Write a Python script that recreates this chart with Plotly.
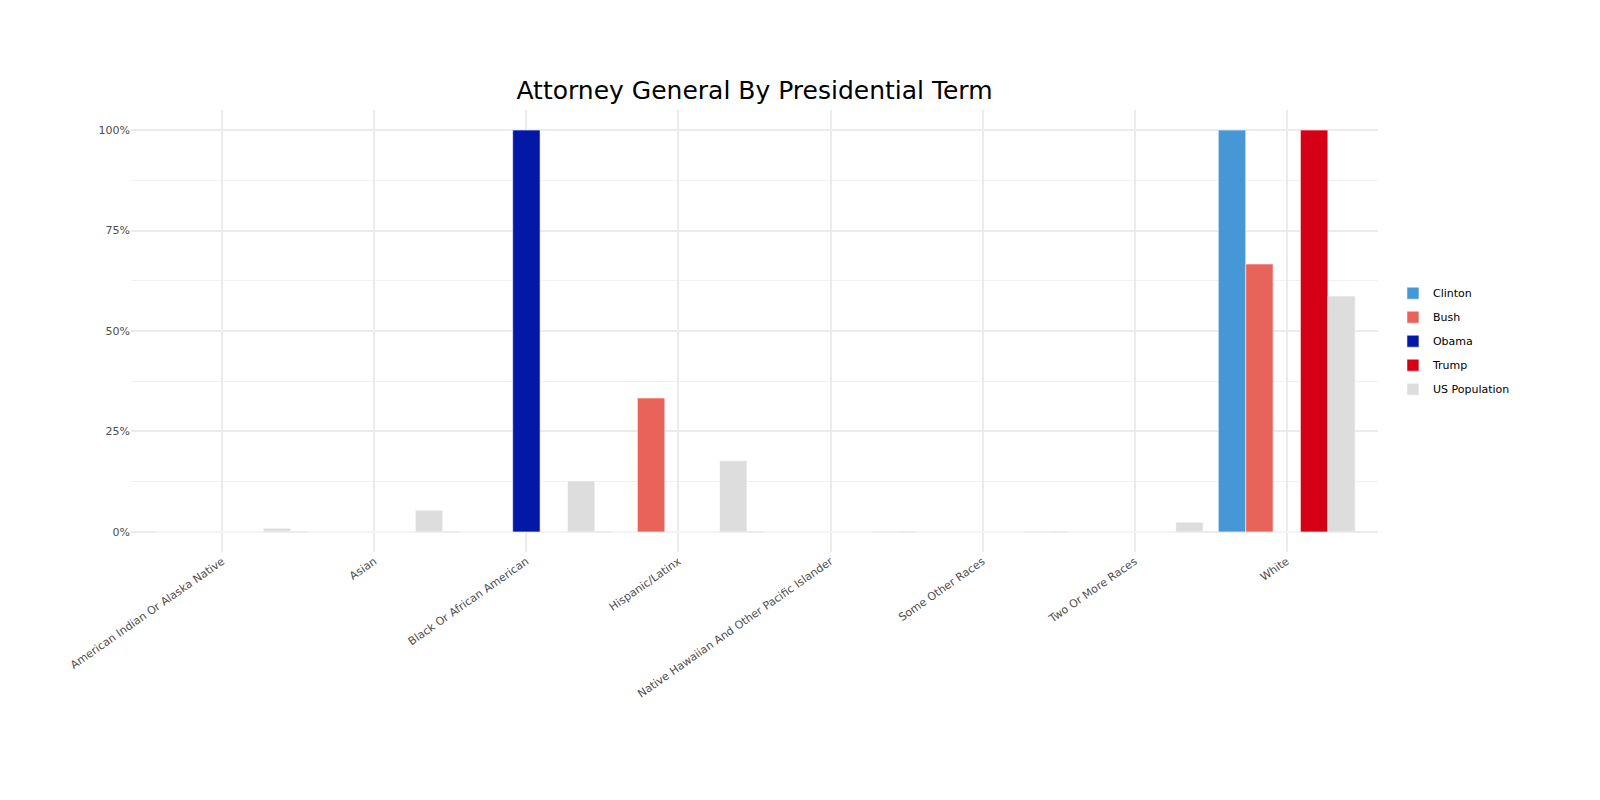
import plotly.graph_objects as go

categories = ["American Indian Or Alaska Native", "Asian", "Black Or African American",
              "Hispanic/Latinx", "Native Hawaiian And Other Pacific Islander",
              "Some Other Races", "Two Or More Races", "White"]
series_names = ["Clinton", "Bush", "Obama", "Trump", "US Population"]
clinton = [0, 0, 0, 0, 0, 0, 0, 1.0]
bush = [0, 0, 0, 1/3, 0, 0, 0, 2/3]
obama = [0, 0, 1.0, 0, 0, 0, 0, 0]
trump = [0, 0, 0, 0, 0, 0, 0, 1.0]
us_population = [0.009, 0.054, 0.127, 0.177, 0.002, 0.002, 0.024, 0.587]
colors = ["#4597D6", "#E8645B", "#0418A8", "#D50016", "#DDDDDD"]
ytick_vals = [0, 0.25, 0.5, 0.75, 1.0]
ytick_text = ["0%", "25%", "50%", "75%", "100%"]
yminor_vals = [0.125, 0.375, 0.625, 0.875]

font_family = "DejaVu Sans, Verdana, sans-serif"

fig = go.Figure()
for name, vals, col in zip(series_names, [clinton, bush, obama, trump, us_population], colors):
    fig.add_trace(go.Bar(
        x=categories, y=vals, name=name, legendgroup=name,
        marker=dict(color=col, line=dict(color="rgba(255,255,255,0.55)", width=1)),
    ))

fig.update_layout(
    width=1600, height=800,
    barmode="group", bargap=0.1, bargroupgap=0,
    plot_bgcolor="white", paper_bgcolor="white",
    margin=dict(l=131, r=222, t=110, b=248),
    title=dict(text="Attorney General By Presidential Term", x=0.5, xref="paper",
               xanchor="center", y=1 - 90 / 800, yanchor="middle",
               font=dict(family=font_family, size=25, color="black")),
    font=dict(family=font_family, color="#4D4D4D"),
    legend=dict(x=1.012, y=0.477, xanchor="left", yanchor="middle",
                traceorder="grouped", tracegroupgap=5,
                font=dict(family=font_family, size=11, color="black")),
    showlegend=True,
)
fig.update_xaxes(
    range=[-0.6, 7.6], showgrid=True, gridcolor="#EBEBEB", gridwidth=1.9,
    tickangle=-35, tickfont=dict(size=11, color="#4D4D4D"),
    showline=False, zeroline=False, ticks="",
)
fig.update_yaxes(
    range=[-0.05, 1.05], tickvals=ytick_vals, ticktext=ytick_text,
    showgrid=True, gridcolor="#EBEBEB", gridwidth=1.9,
    minor=dict(tickvals=yminor_vals, showgrid=True, gridcolor="#F2F2F2", gridwidth=1),
    tickfont=dict(size=11, color="#4D4D4D"),
    showline=False, zeroline=False, ticks="",
)

fig.write_html("out.html")
